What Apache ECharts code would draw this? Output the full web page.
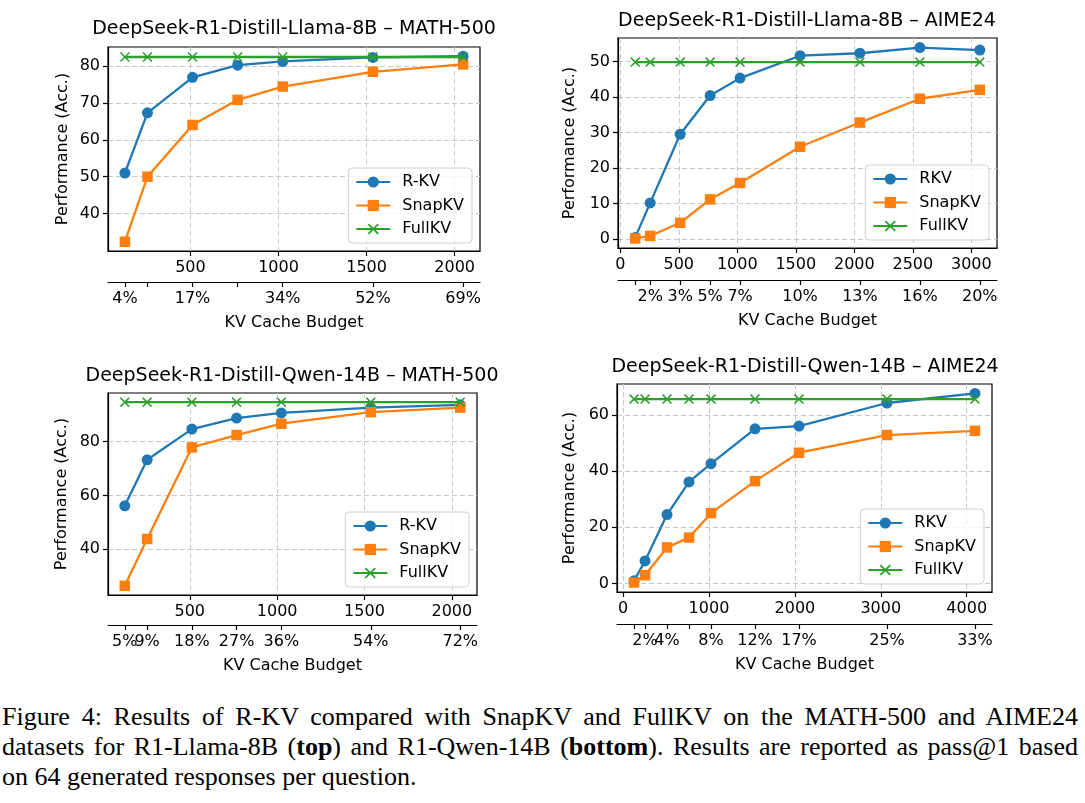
<!DOCTYPE html>
<html>
<head>
<meta charset="utf-8">
<script src="https://cdn.jsdelivr.net/npm/echarts@6/dist/echarts.min.js"></script>
<style>
html,body{margin:0;padding:0;background:#fff;}
#chart{position:absolute;left:0;top:0;width:1085px;height:700px;}
#caption{position:absolute;left:2px;top:702px;width:1076px;font-family:'Liberation Serif','Times New Roman',serif;font-size:26px;line-height:29.8px;color:#000;}
#caption div{text-align:justify;text-align-last:justify;white-space:nowrap;}
#caption div.last{text-align-last:left;}
</style>
</head>
<body>
<div id="chart"></div>
<div id="caption">
<div>Figure 4: Results of R-KV compared with SnapKV and FullKV on the MATH-500 and AIME24</div>
<div>datasets for R1-Llama-8B (<b>top</b>) and R1-Qwen-14B (<b>bottom</b>). Results are reported as pass@1 based</div>
<div class="last">on 64 generated responses per question.</div>
</div>
<script>
// ---------- data ----------
const budgetsMath = [128, 256, 512, 768, 1024, 1536, 2048];
const budgetsAimeLlama = [128, 256, 512, 768, 1024, 1536, 2048, 2560, 3072];
const budgetsAimeQwen = [128, 256, 512, 768, 1024, 1536, 2048, 3072, 4096];

const llamaMathPct = ['4%', '', '17%', '', '34%', '52%', '69%'];
const llamaAimePct = ['', '2%', '3%', '5%', '7%', '10%', '13%', '16%', '20%'];
const qwenMathPct = ['5%', '9%', '18%', '27%', '36%', '54%', '72%'];
const qwenAimePct = ['', '2%', '4%', '', '8%', '12%', '17%', '25%', '33%'];

const llamaMathRKV = [51.0, 67.3, 76.9, 80.2, 81.2, 82.3, 82.6];
const llamaMathSnap = [32.4, 50.0, 64.0, 70.8, 74.4, 78.4, 80.4];
const llamaMathFull = [82.4, 82.4, 82.4, 82.4, 82.4, 82.4, 82.4];

const llamaAimeRKV = [0.5, 10.2, 29.5, 40.4, 45.3, 51.6, 52.3, 53.9, 53.2];
const llamaAimeSnap = [0.2, 0.9, 4.6, 11.2, 15.8, 26.0, 32.8, 39.5, 42.0];
const llamaAimeFull = [49.8, 49.8, 49.8, 49.8, 49.8, 49.8, 49.8, 49.8, 49.8];

const qwenMathRKV = [56.1, 73.2, 84.6, 88.7, 90.6, 92.6, 93.6];
const qwenMathSnap = [26.4, 43.8, 77.8, 82.4, 86.6, 90.9, 92.6];
const qwenMathFull = [94.6, 94.6, 94.6, 94.6, 94.6, 94.6, 94.6];

const qwenAimeRKV = [0.9, 8.0, 24.5, 36.1, 42.6, 55.0, 56.0, 64.2, 67.6];
const qwenAimeSnap = [0.3, 2.9, 12.8, 16.3, 25.0, 36.4, 46.5, 52.8, 54.3];
const qwenAimeFull = [65.6, 65.6, 65.6, 65.6, 65.6, 65.6, 65.6, 65.6, 65.6];

const xTicksLlamaMath = [500, 1000, 1500, 2000];
const xTicksLlamaAime = [0, 500, 1000, 1500, 2000, 2500, 3000];
const xTicksQwenMath = [500, 1000, 1500, 2000];
const xTicksQwenAime = [0, 1000, 2000, 3000, 4000];

const yTicksLlamaMath = [40, 50, 60, 70, 80];
const yTicksLlamaAime = [0, 10, 20, 30, 40, 50];
const yTicksQwenMath = [40, 60, 80];
const yTicksQwenAime = [0, 20, 40, 60];

const titles = [
  'DeepSeek-R1-Distill-Llama-8B – MATH-500',
  'DeepSeek-R1-Distill-Llama-8B – AIME24',
  'DeepSeek-R1-Distill-Qwen-14B – MATH-500',
  'DeepSeek-R1-Distill-Qwen-14B – AIME24'
];
const methodNamesMath = ['R-KV', 'SnapKV', 'FullKV'];
const methodNamesAime = ['RKV', 'SnapKV', 'FullKV'];
const xAxisTitle = 'KV Cache Budget';
const yAxisTitle = 'Performance (Acc.)';

// ---------- styling / layout ----------
const FONT = 'DejaVu Sans';
const COLORS = ['#1f77b4', '#ff7f0e', '#2ca02c'];
const X_PATH = 'path://M0,11L11,0L50,39L89,0L100,11L61,50L100,89L89,100L50,61L11,100L0,89L39,50Z';
const SYMBOLS = ['circle', 'rect', X_PATH];
const SYMBOL_SIZES = [11, 10.5, 10];
const W = 1085, H = 700;

const panels = [
  {title: titles[0], xs: budgetsMath, pct: llamaMathPct, names: methodNamesMath,
   ys: [llamaMathRKV, llamaMathSnap, llamaMathFull], xt: xTicksLlamaMath, yt: yTicksLlamaMath,
   grid: {left: 108, top: 47, width: 372, height: 204}, tx: 294, ty: 29, yGap: 37, secOff: 31},
  {title: titles[1], xs: budgetsAimeLlama, pct: llamaAimePct, names: methodNamesAime,
   ys: [llamaAimeRKV, llamaAimeSnap, llamaAimeFull], xt: xTicksLlamaAime, yt: yTicksLlamaAime,
   grid: {left: 618, top: 38, width: 379, height: 210}, tx: 807, ty: 21, yGap: 40, secOff: 32},
  {title: titles[2], xs: budgetsMath, pct: qwenMathPct, names: methodNamesMath,
   ys: [qwenMathRKV, qwenMathSnap, qwenMathFull], xt: xTicksQwenMath, yt: yTicksQwenMath,
   grid: {left: 108, top: 393, width: 369, height: 202}, tx: 292, ty: 376, yGap: 38, secOff: 30},
  {title: titles[3], xs: budgetsAimeQwen, pct: qwenAimePct, names: methodNamesAime,
   ys: [qwenAimeRKV, qwenAimeSnap, qwenAimeFull], xt: xTicksQwenAime, yt: yTicksQwenAime,
   grid: {left: 617, top: 384, width: 375, height: 208}, tx: 805, ty: 367, yGap: 39, secOff: 32}
];

const txt = {fontFamily: FONT, fontSize: 16, color: '#000'};
const dashed = {type: [5, 3], color: '#c8c8c8', width: 1};
const plain = v => String(Math.round(v));

const option = {
  animation: false,
  backgroundColor: '#fff',
  title: [], grid: [], xAxis: [], yAxis: [], legend: [], series: []
};

panels.forEach((p, i) => {
  const xmin0 = Math.min(...p.xs), xmax0 = Math.max(...p.xs);
  const xpad = (xmax0 - xmin0) * 0.05;
  const allY = [].concat(...p.ys);
  const ymin0 = Math.min(...allY), ymax0 = Math.max(...allY);
  const ypad = (ymax0 - ymin0) * 0.05;
  const xmin = xmin0 - xpad, xmax = xmax0 + xpad;
  const ymin = ymin0 - ypad, ymax = ymax0 + ypad;

  option.title.push({
    text: p.title, left: p.tx, top: p.ty, textAlign: 'center', textVerticalAlign: 'middle', padding: 0,
    textStyle: {fontFamily: FONT, fontSize: 19, fontWeight: 'normal', color: '#000'}
  });
  option.grid.push(Object.assign({show: true, borderColor: '#000', borderWidth: 1.2,
    backgroundColor: 'transparent', containLabel: false, outerBoundsMode: 'none'}, p.grid));

  option.xAxis.push({
    type: 'value', gridIndex: i, position: 'bottom', min: xmin, max: xmax, splitNumber: 5,
    axisLine: {show: true, onZero: false, lineStyle: {color: '#000', width: 1.2}},
    axisTick: {show: true, length: 5, customValues: p.xt, lineStyle: {color: '#000', width: 1.2}},
    axisLabel: Object.assign({customValues: p.xt, margin: 9, formatter: plain,
      showMinLabel: true, showMaxLabel: true, hideOverlap: false}, txt),
    splitLine: {show: true, lineStyle: dashed}
  });
  // secondary axis: an empty label sits at the axis min so that no real label is treated as the "min label"
  option.xAxis.push({
    type: 'value', gridIndex: i, position: 'bottom', offset: p.secOff, min: xmin, max: xmax,
    axisLine: {show: true, onZero: false, lineStyle: {color: '#000', width: 1.2}},
    axisTick: {show: true, length: 5, customValues: p.xs, lineStyle: {color: '#000', width: 1.2}},
    axisLabel: Object.assign({customValues: [xmin].concat(p.xs), margin: 9, hideOverlap: false,
      formatter: v => { const k = p.xs.indexOf(Math.round(v)); return k >= 0 ? p.pct[k] : ''; }}, txt),
    splitLine: {show: false},
    name: xAxisTitle, nameLocation: 'middle', nameGap: 33, nameTextStyle: txt
  });
  option.yAxis.push({
    type: 'value', gridIndex: i, min: ymin, max: ymax, splitNumber: 5,
    axisLine: {show: true, onZero: false, lineStyle: {color: '#000', width: 1.2}},
    axisTick: {show: true, length: 5, customValues: p.yt, lineStyle: {color: '#000', width: 1.2}},
    axisLabel: Object.assign({customValues: p.yt, margin: 8, formatter: plain,
      showMinLabel: true, showMaxLabel: true, hideOverlap: false}, txt),
    splitLine: {show: true, lineStyle: dashed},
    name: yAxisTitle, nameLocation: 'middle', nameRotate: 90, nameGap: p.yGap, nameTextStyle: txt
  });
  const g = p.grid;
  option.legend.push({
    data: p.names, orient: 'vertical', selectedMode: false,
    right: W - (g.left + g.width - 8), bottom: H - (g.top + g.height - 8),
    itemWidth: 34, itemHeight: 14, itemGap: 7.5, padding: [6, 8, 6, 7],
    borderColor: '#d0d0d0', borderWidth: 1, borderRadius: 4, backgroundColor: 'rgba(255,255,255,0.8)',
    textStyle: Object.assign({padding: [0, 0, 0, 7]}, txt)
  });
  p.names.forEach((nm, s) => {
    option.series.push({
      type: 'line', name: nm, xAxisIndex: 2 * i, yAxisIndex: i,
      data: p.xs.map((x, k) => [x, p.ys[s][k]]),
      symbol: SYMBOLS[s], symbolSize: SYMBOL_SIZES[s], showSymbol: true,
      lineStyle: {color: COLORS[s], width: 2.3},
      itemStyle: {color: COLORS[s]},
      emphasis: {disabled: true}, z: 2 + s
    });
  });
});

const chart = echarts.init(document.getElementById('chart'), null, {renderer: 'canvas'});
chart.setOption(option);
</script>
</body>
</html>
